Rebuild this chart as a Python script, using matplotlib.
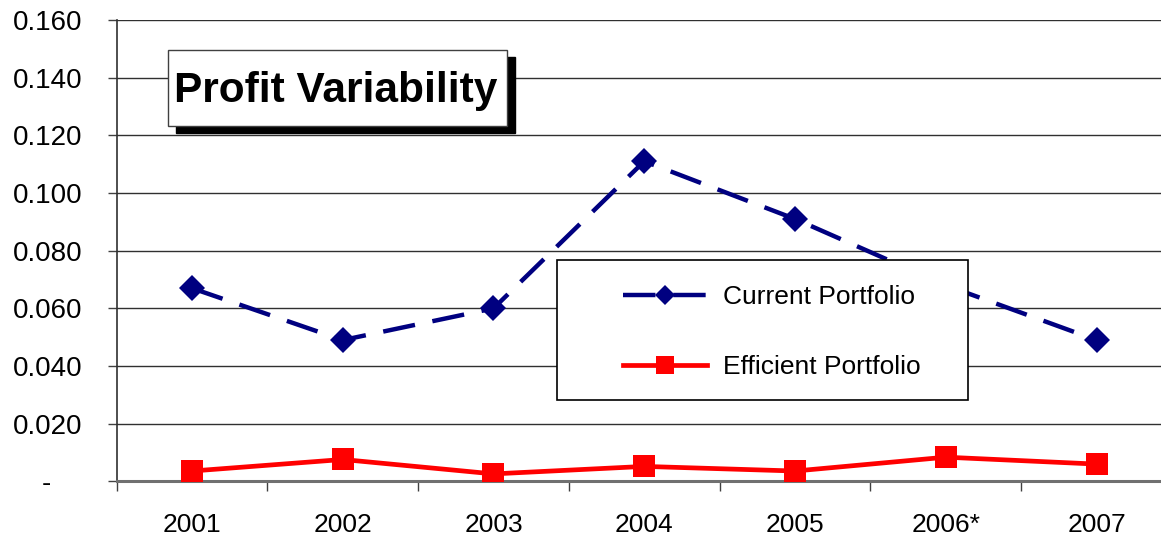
import matplotlib
matplotlib.use("Agg")
import matplotlib.pyplot as plt
from matplotlib.patches import Rectangle
from matplotlib.ticker import FixedLocator

plt.rcParams["font.family"] = ["Liberation Sans", "DejaVu Sans"]

# --- data ---
YEARS = ["2001", "2002", "2003", "2004", "2005", "2006*", "2007"]
CURRENT = [0.067, 0.049, 0.060, 0.111, 0.091, 0.068, 0.049]
EFFICIENT = [0.0036, 0.0076, 0.0026, 0.0052, 0.0036, 0.0084, 0.0060]
Y_TICKS = [0.0, 0.02, 0.04, 0.06, 0.08, 0.10, 0.12, 0.14, 0.16]
# zero shown as an accounting dash, set in from the right edge
Y_LABELS = ["-    ", "0.020", "0.040", "0.060", "0.080", "0.100", "0.120", "0.140", "0.160"]

W, H, DPI = 1161, 538, 100
NAVY, RED = "#000080", "#ff0000"


def px(x, y):
    """pixel (from top-left) -> figure fraction"""
    return x / W, 1 - y / H


fig = plt.figure(figsize=(W / DPI, H / DPI), dpi=DPI)
# axes runs past the right edge of the picture, as in the reference
x0, y_top = px(116.5, 20)
_, y_bot = px(116.5, 481.4)
ax = fig.add_axes([x0, y_bot, (1172 - 116.5) / W, y_top - y_bot])

xs = range(len(YEARS))
ax.plot(xs, CURRENT, color=NAVY, lw=3.2, dashes=(7.3, 4), dash_capstyle="butt",
        marker="D", ms=13, mew=0, label="Current Portfolio", zorder=3)
ax.plot(xs, EFFICIENT, color=RED, lw=3.4, marker="s", ms=16, mew=0,
        label="Efficient Portfolio", zorder=3)

ax.set_xlim(-0.5, len(YEARS) - 0.5)
ax.set_ylim(0, 0.16)
ax.set_yticks(Y_TICKS)
ax.set_yticklabels(Y_LABELS, fontsize=20)
ax.set_xticks(list(xs))
ax.set_xticklabels(YEARS, fontsize=19)
ax.xaxis.set_minor_locator(FixedLocator([i - 0.5 for i in range(len(YEARS) + 1)]))
ax.tick_params(axis="x", which="major", length=0, pad=23)
ax.tick_params(axis="x", which="minor", length=7, width=1, color="#404040", direction="out")
ax.tick_params(axis="y", length=6.5, width=1, color="#404040", direction="out", pad=18)

ax.yaxis.grid(True, color="#303030", lw=1)
ax.set_axisbelow(True)
for s in ("top", "right"):
    ax.spines[s].set_visible(False)
ax.spines["left"].set_color("#303030")
ax.spines["left"].set_linewidth(1.2)
ax.spines["bottom"].set_color("#707070")
ax.spines["bottom"].set_linewidth(2.2)

# title box with drop shadow
bx0, by0 = px(168, 126)
bx1, by1 = px(507, 50)
sx, sy = 8 / W, -7 / H
ax.add_patch(Rectangle((bx0 + sx, by0 + sy), bx1 - bx0, by1 - by0, transform=fig.transFigure,
                       facecolor="black", edgecolor="black", clip_on=False, zorder=4))
ax.add_patch(Rectangle((bx0, by0), bx1 - bx0, by1 - by0, transform=fig.transFigure,
                       facecolor="white", edgecolor="#404040", lw=1, clip_on=False, zorder=4.1))
tx, ty = px(336, 91)
ax.text(tx, ty, "Profit Variability", transform=fig.transFigure, ha="center", va="center",
        fontsize=30.5, fontweight="bold", zorder=4.2)

# legend frame + contents
lx0, ly0 = px(557, 400)
lx1, ly1 = px(968, 260)
ax.add_patch(Rectangle((lx0, ly0), lx1 - lx0, ly1 - ly0, transform=fig.transFigure,
                       facecolor="white", edgecolor="black", lw=1.2, clip_on=False, zorder=4))
ax.legend(loc="upper left", bbox_to_anchor=px(623, 285), bbox_transform=fig.transFigure,
          frameon=False, borderpad=0, borderaxespad=0, handlelength=3.2,
          handletextpad=0.6, labelspacing=1.75, fontsize=19, markerscale=0.8)

fig.savefig("out.png", dpi=DPI)
